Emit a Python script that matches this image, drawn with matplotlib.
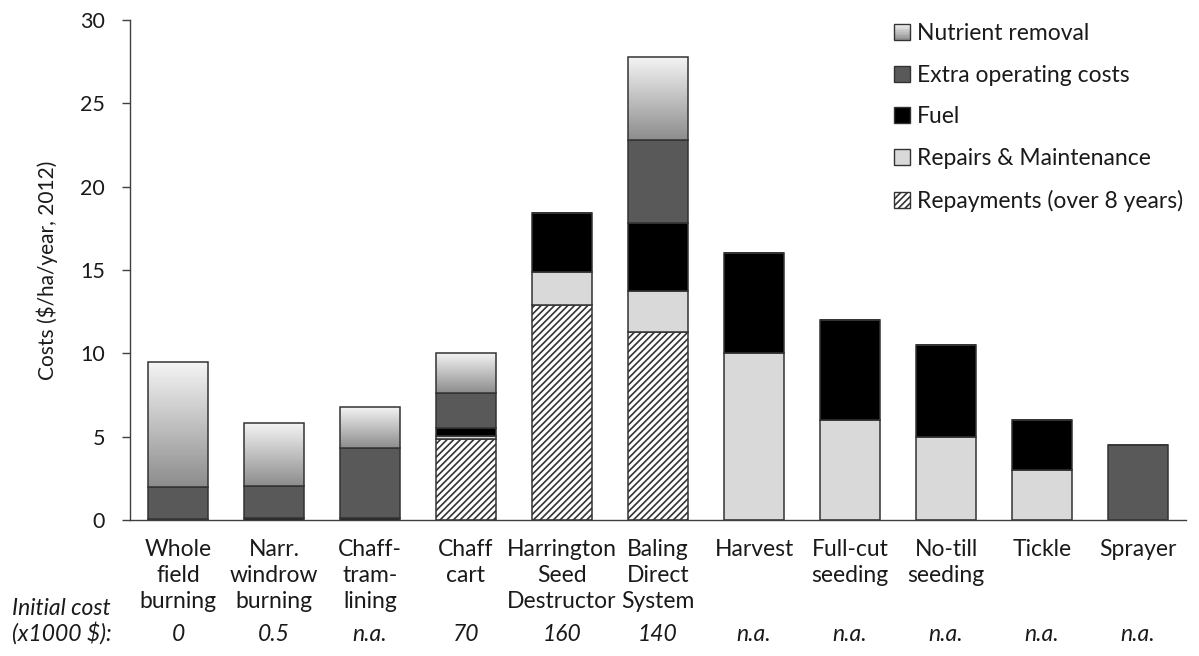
import matplotlib
matplotlib.use("Agg")
import matplotlib.pyplot as plt
import matplotlib.patches as mpatches
import matplotlib.transforms as mtransforms
from matplotlib.legend_handler import HandlerBase
import numpy as np

plt.rcParams['font.family'] = ['Lato', 'DejaVu Sans']
plt.rcParams['hatch.linewidth'] = 1.2

# Cost components per practice ($/ha/year, 2012)
practices = ['Whole\nfield\nburning', 'Narr.\nwindrow\nburning', 'Chaff-\ntram-\nlining',
             'Chaff\ncart', 'Harrington\nSeed\nDestructor', 'Baling\nDirect\nSystem',
             'Harvest', 'Full-cut\nseeding', 'No-till\nseeding', 'Tickle', 'Sprayer']
repayments = [0, 0, 0, 4.85, 12.9, 11.3, 0, 0, 0, 0, 0]
repairs = [0, 0, 0, 0.2, 2.0, 2.45, 10.0, 6.0, 5.0, 3.0, 0]
fuel = [0.05, 0.1, 0.1, 0.5, 3.5, 4.05, 6.0, 6.0, 5.5, 3.0, 0]
extra_operating = [1.95, 1.95, 4.2, 2.05, 0, 5.0, 0, 0, 0, 0, 4.5]
nutrient_removal = [7.5, 3.8, 2.5, 2.45, 0, 5.0, 0, 0, 0, 0, 0]
initial_cost = ['0', '0.5', 'n.a.', '70', '160', '140', 'n.a.', 'n.a.', 'n.a.', 'n.a.', 'n.a.']

EDGE = '#333333'
TXT = '#1a1a1a'
FS = 16.5
GRAD_LO, GRAD_HI = 0.55, 0.96


class GradientHandler(HandlerBase):
    # legend key drawn as a stack of grey strips, light at the top
    def create_artists(self, legend, orig_handle, xdescent, ydescent, width, height,
                       fontsize, trans):
        n = 10
        arts = []
        for i in range(n):
            g = GRAD_LO + (GRAD_HI - GRAD_LO) * (i + 0.5) / n
            r = mpatches.Rectangle((-xdescent, -ydescent + i * height / n), width, height / n,
                                   facecolor=(g, g, g), edgecolor='none', transform=trans)
            arts.append(r)
        arts.append(mpatches.Rectangle((-xdescent, -ydescent), width, height,
                                       facecolor='none', edgecolor=EDGE, linewidth=1.0,
                                       transform=trans))
        return arts


fig = plt.figure(figsize=(11.99, 6.56), dpi=100)
ax = fig.add_axes([0.1084, 0.2073, 0.8808, 0.7622])

x = np.arange(len(practices))
w = 0.62
bottom = np.zeros(len(practices))

ax.bar(x, repayments, w, bottom=bottom, color='white', edgecolor=EDGE,
       hatch='/////', linewidth=1.1)
bottom += repayments
ax.bar(x, repairs, w, bottom=bottom, color='#d9d9d9', edgecolor=EDGE, linewidth=1.1)
bottom += repairs
ax.bar(x, fuel, w, bottom=bottom, color='black', edgecolor=EDGE, linewidth=1.1)
bottom += fuel
ax.bar(x, extra_operating, w, bottom=bottom, color='#595959', edgecolor=EDGE, linewidth=1.1)
bottom += extra_operating
nut = ax.bar(x, nutrient_removal, w, bottom=bottom, color='none', edgecolor=EDGE,
             linewidth=1.1, zorder=3)

# vertical grey gradient inside each nutrient segment
grad = np.linspace(GRAD_LO, GRAD_HI, 256).reshape(-1, 1)
for rect in nut:
    if rect.get_height() <= 0:
        continue
    x0, y0 = rect.get_x(), rect.get_y()
    im = ax.imshow(grad, cmap='gray', vmin=0, vmax=1, origin='lower', aspect='auto',
                   extent=(x0, x0 + rect.get_width(), y0, y0 + rect.get_height()),
                   zorder=2, interpolation='bilinear')
    im.set_clip_path(rect)

ax.set_xlim(-0.5, 10.5)
ax.set_ylim(0, 30)
ax.set_yticks(range(0, 31, 5))
ax.tick_params(axis='y', labelsize=15.5, length=5.8, width=1.0, color='#404040',
               pad=12, labelcolor=TXT)
ax.tick_params(axis='x', length=0, labelbottom=False)
for s in ['top', 'right']:
    ax.spines[s].set_visible(False)
for s in ['left', 'bottom']:
    ax.spines[s].set_color('#404040')
    ax.spines[s].set_linewidth(1.0)
ax.set_ylabel('Costs ($/ha/year, 2012)', fontsize=15, color=TXT)
ax.yaxis.set_label_coords(-0.068, 0.5)

# category names and initial cost row under the axis
trans = mtransforms.blended_transform_factory(ax.transData, fig.transFigure)
for xi, name, cost in zip(x, practices, initial_cost):
    ax.text(xi, 0.178, name, transform=trans, ha='center', va='top',
            fontsize=FS, linespacing=1.28, color=TXT)
    ax.text(xi, 0.0229, cost, transform=trans, ha='center', va='baseline',
            fontsize=FS, style='italic', color=TXT)
fig.text(0.010, 0.0625, 'Initial cost', ha='left', va='baseline', fontsize=FS,
         style='italic', color=TXT)
fig.text(0.010, 0.0229, '(x1000 $):', ha='left', va='baseline', fontsize=FS,
         style='italic', color=TXT)

nutrient_key = mpatches.Patch(facecolor='#c4c4c4', edgecolor=EDGE)
handles = [nutrient_key,
           mpatches.Patch(facecolor='#595959', edgecolor=EDGE, linewidth=1.0),
           mpatches.Patch(facecolor='black', edgecolor=EDGE, linewidth=1.0),
           mpatches.Patch(facecolor='#d9d9d9', edgecolor=EDGE, linewidth=1.0),
           mpatches.Patch(facecolor='white', edgecolor=EDGE, hatch='/////', linewidth=1.0)]
labels = ['Nutrient removal', 'Extra operating costs', 'Fuel',
          'Repairs & Maintenance', 'Repayments (over 8 years)']
leg = fig.legend(handles, labels, loc='upper left', bbox_to_anchor=(894 / 1199, 0.965),
                 frameon=False, fontsize=FS, handlelength=0.7, handleheight=0.7,
                 handletextpad=0.3, labelspacing=0.9, borderaxespad=0, borderpad=0,
                 handler_map={nutrient_key: GradientHandler()})
for t in leg.get_texts():
    t.set_color(TXT)

fig.savefig('out.png', dpi=100)
